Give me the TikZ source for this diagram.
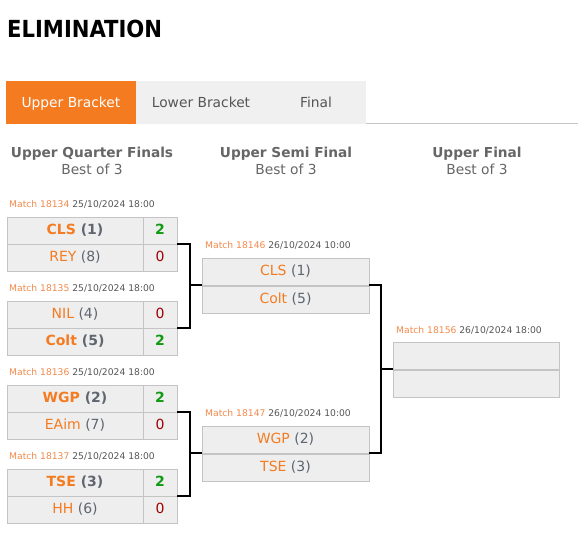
\documentclass[tikz,border=0pt]{standalone}
\usepackage{fontspec}
\setmainfont{DejaVu Sans}
\newfontfamily\titlefont{DejaVu Sans Condensed}
\definecolor{orng}{HTML}{F47B20}
\definecolor{nameorng}{HTML}{F47B20}
\definecolor{lblorng}{HTML}{F28A4C}
\definecolor{dategray}{HTML}{555555}
\definecolor{seedgray}{HTML}{5F6670}
\definecolor{headgray}{HTML}{666666}
\definecolor{tabgray}{HTML}{F0F0F0}
\definecolor{tabtext}{HTML}{555555}
\definecolor{boxfill}{HTML}{EEEEEE}
\definecolor{boxline}{HTML}{C4C4C4}
\definecolor{wingreen}{HTML}{119911}
\definecolor{losered}{HTML}{A00000}
\newcommand\winname[2]{{\bfseries\color{nameorng}#1 \color{seedgray}(#2)}}
\newcommand\losename[2]{{\color{nameorng}#1 \color{seedgray}(#2)}}
\newcommand\winsc{{\bfseries\color{wingreen}2}}
\newcommand\losesc{{\color{losered}0}}
\newcommand\mlabel[2]{{\color{lblorng}Match #1 \color{dategray}#2}}
\tikzset{
  cellbase/.style={draw=boxline, fill=boxfill, line width=1pt, minimum height=27pt,
    inner sep=0pt, outer sep=0pt, anchor=north west, text height=10pt, text depth=1.6pt,
    font=\fontsize{14}{16}\selectfont},
  namecell/.style={cellbase, minimum width=136pt},
  scorecell/.style={cellbase, minimum width=34pt},
  semicell/.style={cellbase, minimum width=167pt},
  finalcell/.style={cellbase, minimum width=166pt},
  mlbl/.style={anchor=base west, inner sep=0pt, font=\fontsize{9.2}{11}\selectfont},
  hd/.style={anchor=base, inner sep=0pt, text=headgray, font=\fontsize{13.7}{16}\selectfont\bfseries},
  subhd/.style={anchor=base, inner sep=0pt, text=headgray, font=\fontsize{13.8}{16}\selectfont},
  tab/.style={anchor=north west, inner sep=0pt, outer sep=0pt, minimum height=43pt,
    text height=10.4pt, text depth=0pt, font=\fontsize{13.8}{16}\selectfont},
  bracket/.style={draw=black, line width=2pt},
}
\begin{document}
\begin{tikzpicture}[x=1pt,y=-1pt]
\useasboundingbox[fill=white] (0,0) rectangle (578,536);
% title
\node[anchor=base west, inner sep=0pt, font=\fontsize{23.5}{26}\titlefont\bfseries] (title) at (7,37.5) {ELIMINATION};
% tabs
\node[tab, fill=orng, text=white, minimum width=130pt] (tab1) at (6,81) {Upper Bracket};
\node[tab, fill=tabgray, text=tabtext, minimum width=130pt] (tab2) at (136,81) {Lower Bracket};
\node[tab, fill=tabgray, text=tabtext, minimum width=100pt] (tab3) at (266,81) {Final};
\coordinate (tabend) at (578,123.5);
\draw[boxline, line width=1pt] (tab3.south east) ++(0,-0.5) -- (tabend);
% headings
\node[hd] (h1) at (92,157) {Upper Quarter Finals};
\node[subhd] (h1s) at (92,174) {Best of 3};
\node[hd] (h2) at (286,157) {Upper Semi Final};
\node[subhd] (h2s) at (286,174) {Best of 3};
\node[hd] (h3) at (477,157) {Upper Final};
\node[subhd] (h3s) at (477,174) {Best of 3};
% QF match 1
\node[mlbl] (l1) at (9,207) {\mlabel{18134}{25/10/2024 18:00}};
\node[namecell] (m1a) at (7,217) {\winname{CLS}{1}};
\node[scorecell] (m1as) at (143,217) {\winsc};
\node[namecell] (m1b) at (7,244) {\losename{REY}{8}};
\node[scorecell] (m1bs) at (143,244) {\losesc};
% QF match 2
\node[mlbl] (l2) at (9,291) {\mlabel{18135}{25/10/2024 18:00}};
\node[namecell] (m2a) at (7,301) {\losename{NIL}{4}};
\node[scorecell] (m2as) at (143,301) {\losesc};
\node[namecell] (m2b) at (7,328) {\winname{Colt}{5}};
\node[scorecell] (m2bs) at (143,328) {\winsc};
% QF match 3
\node[mlbl] (l3) at (9,375) {\mlabel{18136}{25/10/2024 18:00}};
\node[namecell] (m3a) at (7,385) {\winname{WGP}{2}};
\node[scorecell] (m3as) at (143,385) {\winsc};
\node[namecell] (m3b) at (7,412) {\losename{EAim}{7}};
\node[scorecell] (m3bs) at (143,412) {\losesc};
% QF match 4
\node[mlbl] (l4) at (9,459) {\mlabel{18137}{25/10/2024 18:00}};
\node[namecell] (m4a) at (7,469) {\winname{TSE}{3}};
\node[scorecell] (m4as) at (143,469) {\winsc};
\node[namecell] (m4b) at (7,496) {\losename{HH}{6}};
\node[scorecell] (m4bs) at (143,496) {\losesc};
% Semis
\node[mlbl] (l5) at (205,248) {\mlabel{18146}{26/10/2024 10:00}};
\node[semicell] (s1a) at (202,258) {\losename{CLS}{1}};
\node[semicell] (s1b) at (202,286) {\losename{Colt}{5}};
\node[mlbl] (l6) at (205,416) {\mlabel{18147}{26/10/2024 10:00}};
\node[semicell] (s2a) at (202,426) {\losename{WGP}{2}};
\node[semicell] (s2b) at (202,454) {\losename{TSE}{3}};
% Final
\node[mlbl] (l7) at (396,333) {\mlabel{18156}{26/10/2024 18:00}};
\node[finalcell] (f1a) at (393,342) {};
\node[finalcell] (f1b) at (393,370) {};
% brackets
\draw[bracket] (m1as.south east) -- ++(13,0) coordinate (j1) |- (m2as.south east);
\draw[bracket] (j1 |- s1a.south west) -- (s1a.south west);
\draw[bracket] (m3as.south east) -- ++(13,0) coordinate (j2) |- (m4as.south east);
\draw[bracket] (j2 |- s2a.south west) -- (s2a.south west);
\draw[bracket] (s1a.south east) -- ++(12,0) coordinate (j3) |- (s2a.south east);
\draw[bracket] (j3 |- f1a.south west) -- (f1a.south west);
\end{tikzpicture}
\end{document}
